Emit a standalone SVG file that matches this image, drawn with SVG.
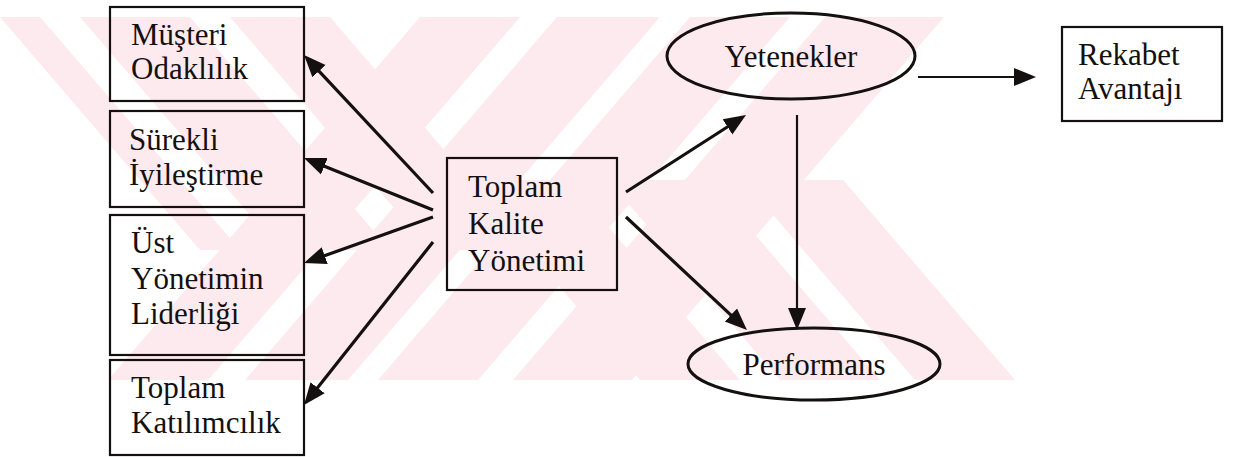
<svg xmlns="http://www.w3.org/2000/svg" width="1240" height="457" viewBox="0 0 1240 457">
<defs>
<style>
.box{fill:none;stroke:#141010;stroke-width:2.2}
.ell{fill:none;stroke:#141010;stroke-width:3}
.t{font-family:"Liberation Serif","Times New Roman",serif;font-size:31px;fill:#141010}
.c{text-anchor:middle}
.ln{fill:none;stroke:#141010;stroke-width:3.2;marker-end:url(#ah)}
.thin{stroke-width:2.2}
.wm{fill:#fdeaee}
</style>
<marker id="ah" markerUnits="userSpaceOnUse" markerWidth="24" markerHeight="20" refX="10" refY="10" orient="auto">
<path d="M0,1 L22,10 L0,19 Z" fill="#141010"/>
</marker>
<clipPath id="wmclip"><rect x="0" y="17" width="1015" height="363"/></clipPath>
</defs>
<rect width="1240" height="457" fill="#fff"/>
<g id="watermark" clip-path="url(#wmclip)">
<polygon class="wm" points="420,17 520,17 208,380 108,380"/>
<polygon class="wm" points="557,17 660,17 348,380 245,380"/>
<polygon class="wm" points="690,17 790,17 478,380 378,380"/>
<polygon class="wm" points="825,17 944,17 632,380 513,380"/>
<polygon class="wm" points="0,17 40,17 240,250 200,250"/>
<polygon class="wm" points="80,17 190,17 390,250 280,250"/>
<polygon class="wm" points="230,17 330,17 530,250 430,250"/>
<polygon class="wm" points="468,180 568,180 740,380 640,380"/>
<polygon class="wm" points="608,180 708,180 880,380 780,380"/>
<polygon class="wm" points="743,180 843,180 1015,380 915,380"/>
</g>
<g id="connectors">
<path class="ln" d="M433,193 L312.2,63.8"/>
<path class="ln" d="M433,210 L315.1,162.5"/>
<path class="ln" d="M433,217 L315.3,259"/>
<path class="ln" d="M433,242 L311.4,395.6"/>
<path class="ln" d="M626,192 L735.9,121.5"/>
<path class="ln" d="M626,217 L738.2,321.8"/>
<path class="ln thin" d="M918,77 L1024,77"/>
<path class="ln thin" d="M797,115 L797,318"/>
</g>
<g id="musteri">
<rect class="box" x="110" y="7" width="194" height="94"/>
<text class="t" x="131" y="45">Müşteri</text>
<text class="t" x="131" y="79">Odaklılık</text>
</g>
<g id="surekli">
<rect class="box" x="110" y="111" width="194" height="96"/>
<text class="t" x="129" y="150">Sürekli</text>
<text class="t" x="129" y="185">İyileştirme</text>
</g>
<g id="ust">
<rect class="box" x="110" y="215" width="194" height="140"/>
<text class="t" x="131" y="253">Üst</text>
<text class="t" x="131" y="289">Yönetimin</text>
<text class="t" x="131" y="324">Liderliği</text>
</g>
<g id="katilim">
<rect class="box" x="110" y="360" width="194" height="95"/>
<text class="t" x="131" y="398">Toplam</text>
<text class="t" x="131" y="433">Katılımcılık</text>
</g>
<g id="tky">
<rect class="box" x="447" y="158" width="170" height="132"/>
<text class="t" x="468" y="197">Toplam</text>
<text class="t" x="468" y="234">Kalite</text>
<text class="t" x="468" y="271">Yönetimi</text>
</g>
<g id="yetenekler">
<ellipse class="ell" cx="791" cy="56" rx="124" ry="43"/>
<text class="t c" x="791" y="67">Yetenekler</text>
</g>
<g id="rekabet">
<rect class="box" x="1062" y="27" width="160" height="94"/>
<text class="t" x="1078" y="65">Rekabet</text>
<text class="t" x="1078" y="99">Avantajı</text>
</g>
<g id="performans">
<ellipse class="ell" cx="814" cy="364" rx="126" ry="36"/>
<text class="t c" x="814" y="375">Performans</text>
</g>
</svg>
